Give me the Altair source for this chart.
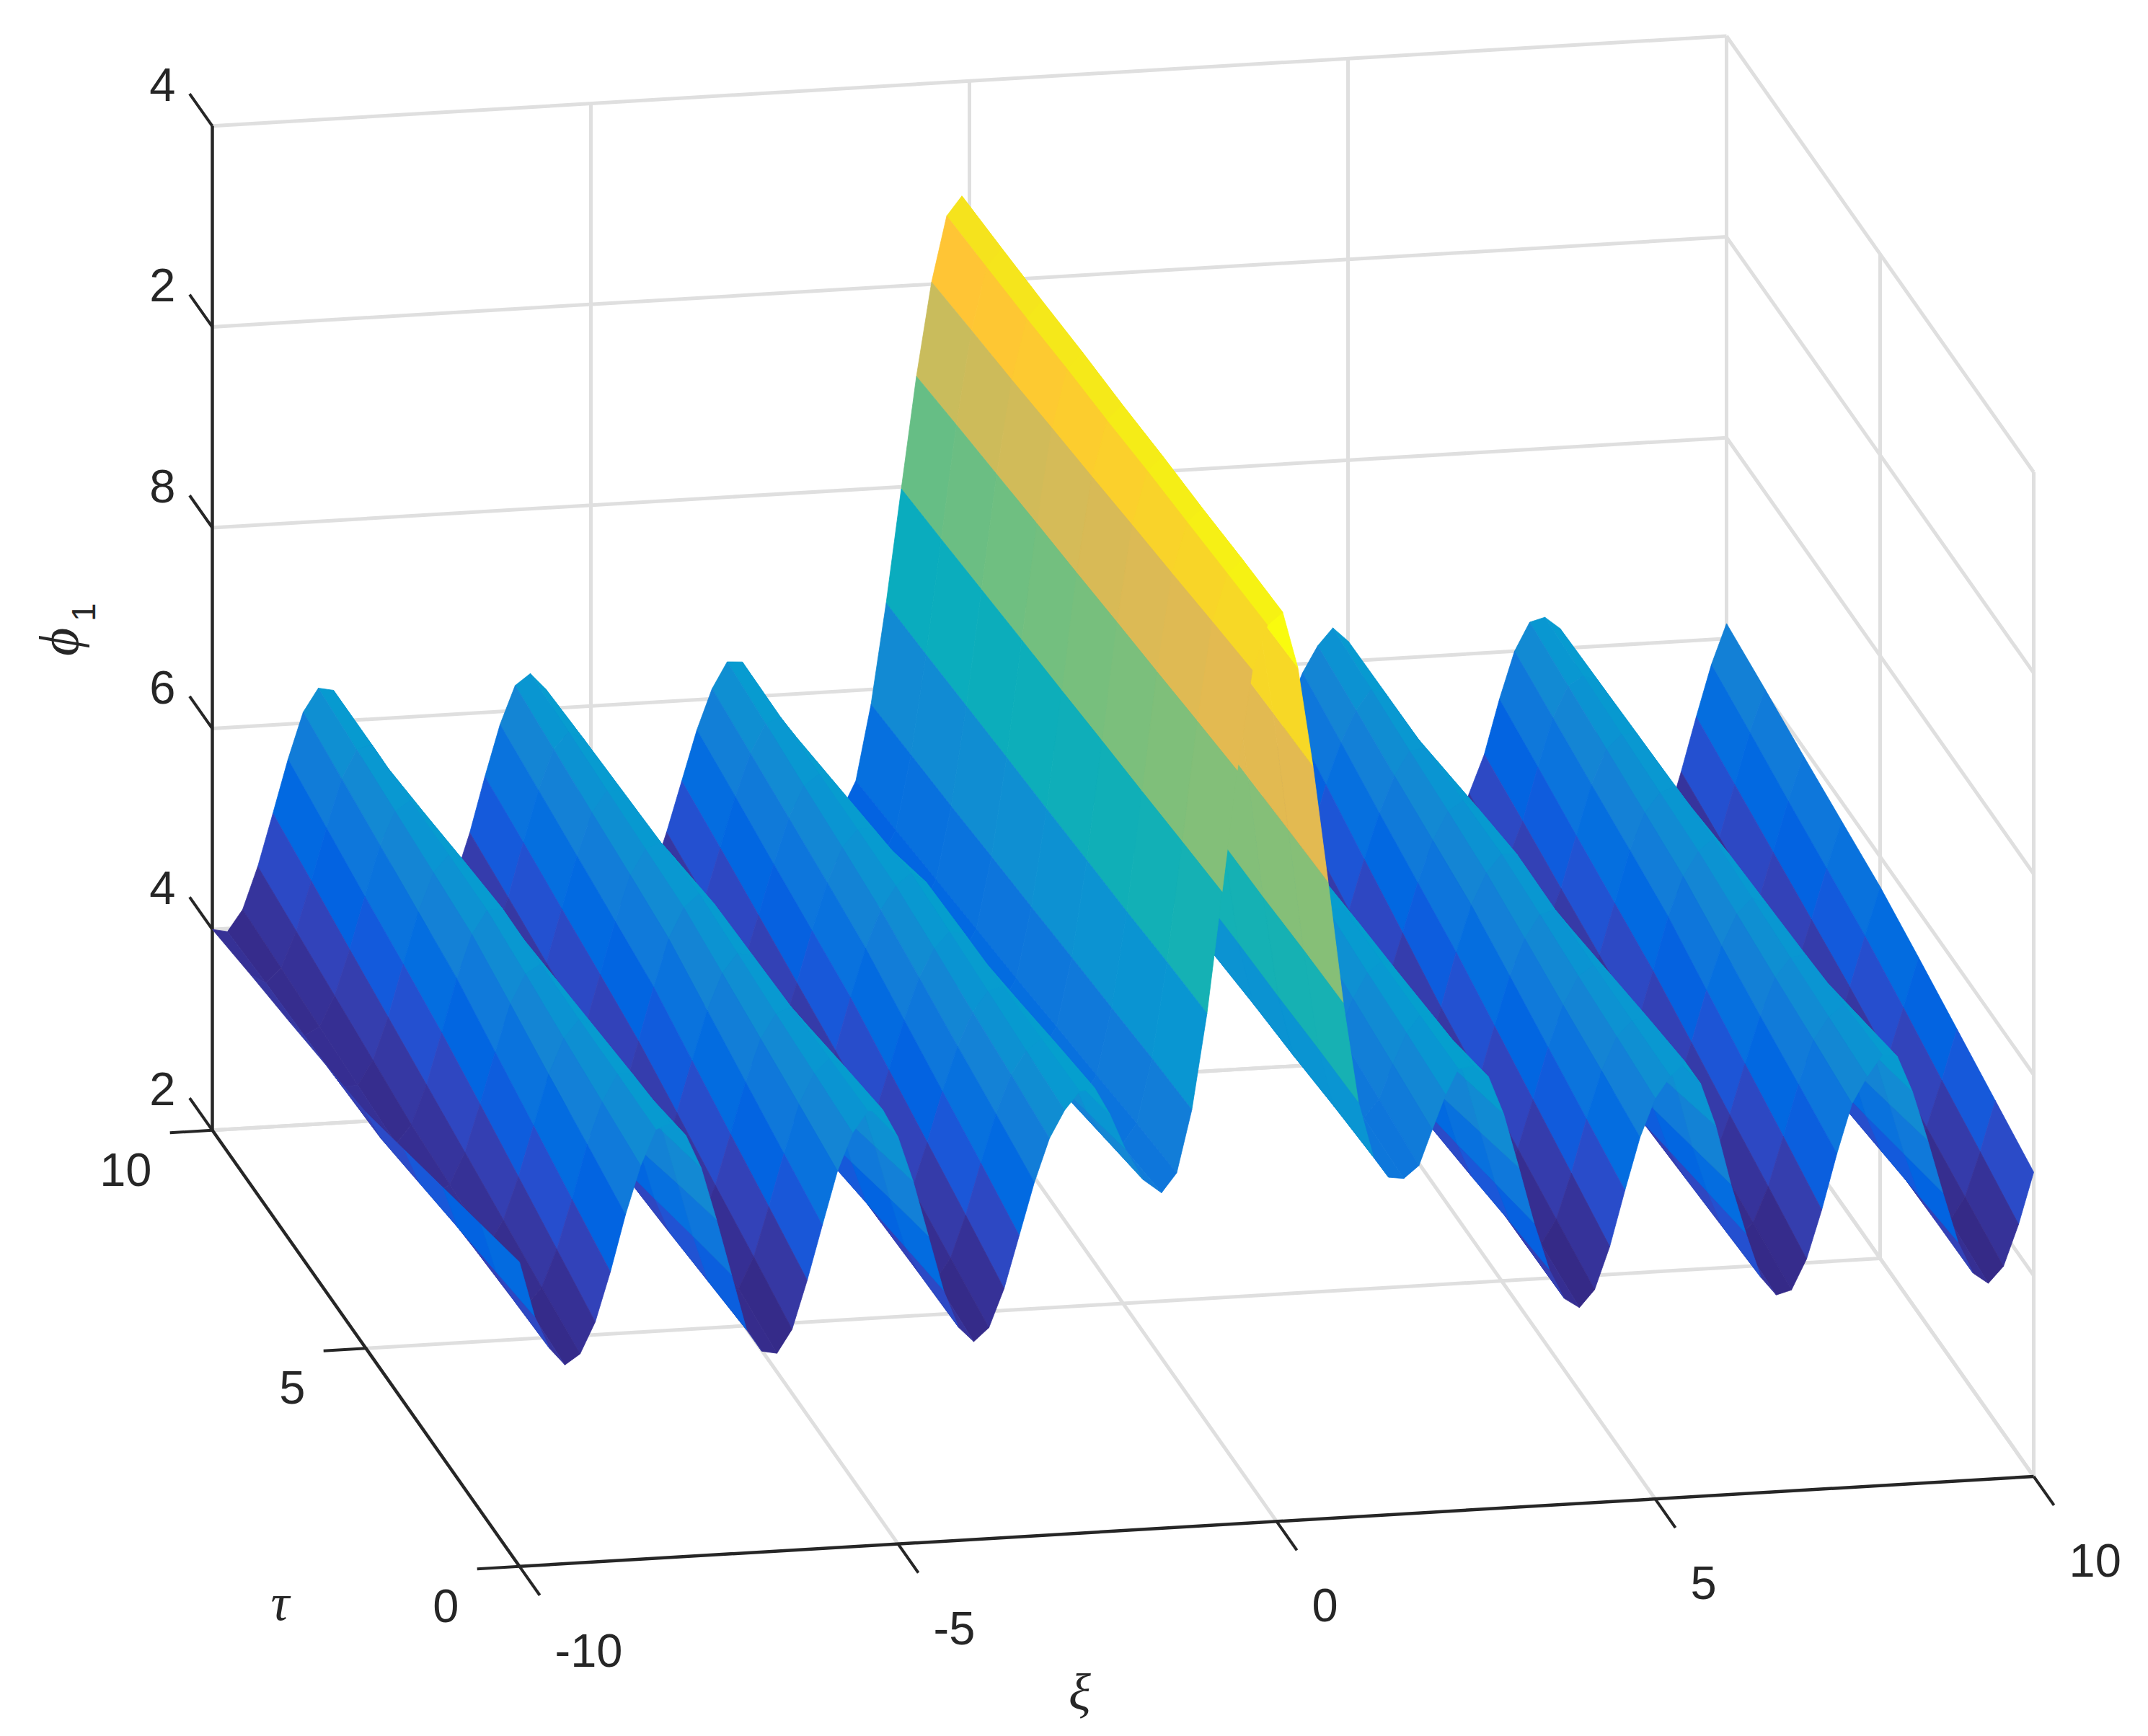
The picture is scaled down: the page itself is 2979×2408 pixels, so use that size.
import altair as alt
import pandas as pd

# ---- surface values (phi_1 at xi = -10, -9.8, ..., 10) ----
tau_rows = [0, 1.25, 2.5, 3.75, 5, 6.25, 7.5, 8.75, 10]
phi_tau_0 = [5.03,4.48,4.15,3.98,4.08,4.39,4.88,5.44,5.92,6.27,
 6.33,6.19,5.86,5.34,4.78,4.22,4.0,3.97,4.2,4.68,
 5.22,5.75,6.12,6.33,6.33,6.05,5.6,5.05,4.5,4.12,
 3.97,4.1,4.48,5.0,5.52,5.95,6.22,6.4,6.42,6.15,
 5.8,5.48,5.34,5.53,6.15,7.1,8.3,9.5,10.49,10.93,
 11.05,10.49,9.5,8.34,7.13,6.13,5.57,5.36,5.34,5.46,
 5.81,6.15,6.4,6.42,6.3,5.92,5.38,4.82,4.35,4.05,
 3.95,4.12,4.54,5.09,5.61,5.99,6.2,6.33,6.11,5.68,
 5.09,4.59,4.14,3.96,4.0,4.3,4.78,5.33,5.82,6.08,
 6.29,6.26,5.9,5.41,4.88,4.38,4.06,3.95,4.11,4.52,5.03]
phi_tau_1 = [4.86,4.38,4.12,4.03,4.2,4.57,5.06,5.6,6.01,6.28,
 6.27,6.06,5.68,5.15,4.62,4.16,4.02,4.07,4.38,4.87,
 5.39,5.87,6.17,6.31,6.22,5.89,5.41,4.88,4.39,4.1,
 4.04,4.25,4.67,5.18,5.66,6.04,6.27,6.38,6.32,5.98,
 5.63,5.36,5.27,5.48,6.12,7.07,8.26,9.45,10.43,10.9,
 11.03,10.47,9.49,8.32,7.12,6.12,5.54,5.35,5.4,5.58,
 5.92,6.22,6.39,6.35,6.15,5.73,5.19,4.67,4.27,4.04,
 4.04,4.28,4.73,5.26,5.73,6.06,6.21,6.24,5.95,5.48,
 4.92,4.46,4.1,4.0,4.13,4.48,4.97,5.48,5.91,6.13,
 6.25,6.12,5.73,5.23,4.72,4.29,4.05,4.03,4.26,4.7,5.2]
phi_tau_2 = [4.69,4.28,4.08,4.09,4.33,4.75,5.25,5.75,6.1,6.28,
 6.2,5.92,5.49,4.95,4.45,4.1,4.03,4.18,4.55,5.05,
 5.56,5.98,6.22,6.28,6.1,5.72,5.22,4.7,4.28,4.07,
 4.11,4.4,4.85,5.35,5.79,6.12,6.32,6.36,6.21,5.8,
 5.45,5.24,5.2,5.42,6.08,7.03,8.22,9.4,10.37,10.87,
 11.0,10.45,9.48,8.3,7.1,6.1,5.5,5.33,5.47,5.7,
 6.03,6.28,6.38,6.28,6.0,5.54,5.0,4.52,4.18,4.03,
 4.12,4.44,4.92,5.43,5.84,6.12,6.22,6.14,5.78,5.28,
 4.75,4.33,4.06,4.04,4.25,4.65,5.15,5.62,5.99,6.18,
 6.2,5.98,5.55,5.05,4.56,4.2,4.03,4.11,4.41,4.87,5.37]
phi_tau_3 = [4.52,4.18,4.05,4.15,4.46,4.93,5.44,5.91,6.2,6.29,
 6.13,5.79,5.31,4.76,4.29,4.05,4.05,4.29,4.73,5.24,
 5.73,6.09,6.28,6.25,5.99,5.55,5.03,4.53,4.17,4.05,
 4.18,4.55,5.03,5.52,5.93,6.21,6.37,6.34,6.11,5.63,
 5.28,5.12,5.13,5.36,6.04,7.0,8.18,9.35,10.31,10.84,
 10.98,10.43,9.47,8.29,7.09,6.09,5.47,5.32,5.54,5.83,
 6.14,6.35,6.38,6.22,5.85,5.35,4.82,4.38,4.1,4.03,
 4.21,4.6,5.11,5.6,5.96,6.19,6.23,6.04,5.61,5.09,
 4.58,4.2,4.02,4.08,4.37,4.83,5.34,5.77,6.08,6.23,
 6.16,5.84,5.38,4.87,4.41,4.11,4.02,4.19,4.57,5.05,5.54]
phi_tau_5 = [4.35,4.08,4.02,4.2,4.59,5.1,5.63,6.06,6.29,6.3,
 6.06,5.65,5.12,4.56,4.13,3.99,4.06,4.39,4.9,5.43,
 5.9,6.2,6.33,6.22,5.87,5.38,4.83,4.35,4.06,4.02,
 4.25,4.69,5.21,5.69,6.06,6.29,6.41,6.31,6.0,5.45,
 5.1,5.0,5.05,5.3,6.0,6.97,8.14,9.3,10.25,10.8,
 10.95,10.4,9.45,8.27,7.07,6.07,5.43,5.3,5.6,5.95,
 6.25,6.41,6.37,6.15,5.7,5.16,4.63,4.23,4.01,4.02,
 4.29,4.76,5.3,5.76,6.07,6.25,6.24,5.94,5.44,4.89,
 4.41,4.07,3.98,4.12,4.49,5.0,5.53,5.92,6.16,6.28,
 6.12,5.7,5.2,4.68,4.25,4.02,4.01,4.27,4.72,5.22,5.7]
phi_tau_6 = [4.26,4.05,4.06,4.3,4.72,5.24,5.75,6.13,6.3,6.23,
 5.93,5.49,4.95,4.45,4.09,4.0,4.13,4.5,5.02,5.54,
 5.99,6.24,6.3,6.12,5.72,5.22,4.69,4.26,4.05,4.08,
 4.36,4.82,5.33,5.8,6.14,6.31,6.32,6.12,5.76,5.25,
 4.95,4.9,4.99,5.25,5.96,6.94,8.1,9.25,10.19,10.77,
 10.93,10.38,9.44,8.25,7.05,6.05,5.4,5.25,5.55,5.93,
 6.24,6.4,6.32,6.04,5.56,5.02,4.51,4.17,4.03,4.14,
 4.47,4.96,5.45,5.86,6.14,6.24,6.15,5.8,5.3,4.76,
 4.32,4.05,4.04,4.24,4.62,5.13,5.65,6.01,6.2,6.26,
 6.05,5.61,5.11,4.6,4.2,4.01,4.06,4.38,4.85,5.35,5.81]
phi_tau_7 = [4.17,4.02,4.1,4.4,4.85,5.37,5.87,6.2,6.3,6.15,
 5.8,5.32,4.78,4.33,4.05,4.02,4.2,4.6,5.13,5.65,
 6.07,6.28,6.27,6.01,5.57,5.05,4.54,4.17,4.03,4.13,
 4.47,4.95,5.45,5.9,6.21,6.32,6.23,5.93,5.52,5.05,
 4.8,4.8,4.92,5.2,5.92,6.91,8.06,9.2,10.13,10.73,
 10.9,10.35,9.42,8.23,7.03,6.03,5.36,5.2,5.5,5.9,
 6.22,6.38,6.26,5.92,5.42,4.88,4.39,4.1,4.05,4.26,
 4.65,5.15,5.6,5.96,6.2,6.22,6.05,5.65,5.15,4.62,
 4.23,4.02,4.09,4.36,4.74,5.26,5.76,6.1,6.24,6.24,
 5.98,5.52,5.02,4.51,4.15,3.99,4.1,4.48,4.98,5.48,5.92]
phi_tau_8 = [4.09,4.0,4.14,4.5,4.99,5.51,5.99,6.27,6.31,6.08,
 5.68,5.16,4.62,4.22,4.01,4.04,4.28,4.71,5.25,5.76,
 6.16,6.32,6.24,5.91,5.43,4.89,4.4,4.09,4.02,4.19,
 4.59,5.08,5.58,6.0,6.29,6.34,6.14,5.74,5.29,4.85,
 4.65,4.7,4.86,5.15,5.89,6.88,8.02,9.15,10.08,10.7,
 10.88,10.33,9.41,8.22,7.02,6.02,5.33,5.15,5.45,5.88,
 6.21,6.37,6.21,5.81,5.29,4.74,4.27,4.04,4.08,4.38,
 4.83,5.35,5.76,6.07,6.27,6.21,5.95,5.5,5.0,4.49,
 4.14,4.0,4.15,4.49,4.87,5.4,5.88,6.19,6.28,6.22,
 5.92,5.44,4.94,4.43,4.1,3.98,4.15,4.59,5.11,5.62,6.04]
phi_tau_10 = [4.0,3.97,4.18,4.6,5.12,5.65,6.11,6.34,6.31,6.0,
 5.55,5.0,4.45,4.1,3.97,4.05,4.35,4.81,5.36,5.87,
 6.25,6.36,6.2,5.8,5.28,4.72,4.25,4.0,4.0,4.25,
 4.7,5.2,5.7,6.1,6.36,6.35,6.05,5.55,5.05,4.65,
 4.5,4.6,4.8,5.1,5.85,6.85,7.98,9.09,10.02,10.67,
 10.86,10.3,9.4,8.2,7.0,6.0,5.3,5.1,5.4,5.85,
 6.2,6.35,6.15,5.7,5.15,4.6,4.15,3.97,4.1,4.5,
 5.0,5.55,5.91,6.17,6.34,6.2,5.85,5.35,4.85,4.35,
 4.05,3.97,4.2,4.61,4.99,5.53,6.0,6.28,6.32,6.2,
 5.85,5.35,4.85,4.35,4.05,3.97,4.2,4.7,5.24,5.75,6.15]
phi_rows = [phi_tau_0, phi_tau_1, phi_tau_2, phi_tau_3, phi_tau_5,
            phi_tau_6, phi_tau_7, phi_tau_8, phi_tau_10]
xi_nodes = [round(-10 + 0.2 * j, 1) for j in range(101)]

# the mesh leans slightly around the central ridge
mesh_lean_rows = [0.08, 0.06, 0.035, 0.015, -0.01, -0.03, -0.055, -0.08, -0.1]
mesh_lean_nodes = {-1.8: 0.5, -1.6: 1, -1.4: 1, -1.2: 1, -1.0: 1, -0.8: 1, -0.6: 1, -0.4: 1, -0.2: 1,
                   0.0: 1, 0.2: 1, 0.4: 1, 0.6: 1, 0.8: 1, 1.0: 1, 1.2: 1, 1.4: 1, 1.6: 1, 1.8: 1,
                   2.0: 0.7, 2.2: 0.4}

xi_ticks = [-10, -5, 0, 5, 10]
xi_tick_labels = ["-10", "-5", "0", "5", "10"]
tau_ticks = [0, 5, 10]
tau_tick_labels = ["0", "5", "10"]
phi_ticks = [2, 4, 6, 8, 10, 12]
phi_tick_labels = ["2", "4", "6", "8", "2", "4"]

parula = ["#352a87","#362f93","#3636a0","#353dad","#3243ba","#2b4ac7","#2053d4","#0f5cdd",
 "#0363e1","#0268e1","#046de0","#0871de","#0d75dc","#1079da","#127dd8","#1481d6",
 "#1485d4","#1389d3","#108ed2","#0c93d2","#0998d1","#079ccf","#06a0cd","#06a4ca",
 "#06a7c6","#07a9c2","#0aacbe","#0faeb9","#15b1b4","#1db3af","#25b5a9","#2eb7a4",
 "#38b99e","#42bb98","#4dbc92","#59bd8c","#65be86","#71bf80","#7cbf7b","#87bf77",
 "#92bf73","#9bbf6f","#a5be6b","#aebe67","#b7bd63","#c0bc60","#c8bc5c","#d1bb59",
 "#d9ba56","#e1ba52","#e9b94e","#f1b94a","#f8ba44","#fdbe3d","#ffc337","#fec832",
 "#fccd2e","#f9d32a","#f7d826","#f5de21","#f5e41d","#f5eb18","#f6f313","#f9fb0e"]


def project(xi, tau, phi):
    """Orthographic view of the 3-D box, in page pixels."""
    return (720.5 + 105.0 * (xi + 10) - 42.6 * tau,
            2172.8 - 6.24 * (xi + 10) - 60.5 * tau - 139.3 * (phi - 2))


def node(a, b):
    xi = xi_nodes[a] + mesh_lean_rows[b] * mesh_lean_nodes.get(xi_nodes[a], 0)
    return list(project(xi, tau_rows[b], phi_rows[b][a]))


features = []
for i in range(len(tau_rows) - 2, -1, -1):
    for j in range(len(xi_nodes) - 2, -1, -1):
        corners = [(j, i), (j + 1, i), (j + 1, i + 1), (j, i + 1), (j, i)]
        ring = [node(a, b) for a, b in corners]
        features.append({"type": "Feature",
                         "geometry": {"type": "Polygon", "coordinates": [ring]},
                         "properties": {"phi": phi_rows[i][j]}})

x_scale = alt.Scale(domain=[8, 2971], nice=False, zero=False)
y_scale = alt.Scale(domain=[2400, 8], nice=False, zero=False)


def segments(points):
    rows = []
    for a, b in points:
        x1, y1 = project(*a)
        x2, y2 = project(*b)
        rows.append({"x": x1, "y": y1, "x2": x2, "y2": y2})
    return pd.DataFrame(rows)


def rule_layer(points, color, width):
    return alt.Chart(segments(points)).mark_rule(color=color, strokeWidth=width).encode(
        x=alt.X("x:Q", scale=x_scale, axis=None),
        y=alt.Y("y:Q", scale=y_scale, axis=None),
        x2="x2:Q", y2="y2:Q")


def text_layer(rows, **mark):
    return alt.Chart(pd.DataFrame(rows)).mark_text(**mark).encode(
        x=alt.X("x:Q", scale=x_scale, axis=None),
        y=alt.Y("y:Q", scale=y_scale, axis=None),
        text="t:N")


grid_pts = []
for p in phi_ticks:
    grid_pts.append(((-10, 10, p), (10, 10, p)))
    grid_pts.append(((10, 10, p), (10, 0, p)))
for v in xi_ticks[1:]:
    grid_pts.append(((v, 10, 2), (v, 10, 12)))
    grid_pts.append(((v, 0, 2), (v, 10, 2)))
for v in tau_ticks[:-1]:
    grid_pts.append(((10, v, 2), (10, v, 12)))
for v in tau_ticks[1:]:
    grid_pts.append(((-10, v, 2), (10, v, 2)))

axis_pts = [((-10, 10, 2), (-10, 10, 12)), ((-10, 0, 2), (10, 0, 2)), ((-10, 0, 2), (-10, 10, 2))]
tick_pts = []
for p in phi_ticks:
    tick_pts.append(((-10, 10, p), (-10, 10.74, p)))
for v in xi_ticks:
    tick_pts.append(((v, 0, 2), (v, -0.66, 2)))
for v in tau_ticks:
    tick_pts.append(((-10, v, 2), (-10.56, v, 2)))


def labelled(positions, labels):
    rows = []
    for pos, lab in zip(positions, labels):
        x, y = project(*pos)
        rows.append({"x": x, "y": y, "t": lab})
    return rows


INK = "#262626"
FONT = "Liberation Sans"
SIZE = 65
color_scale = alt.Scale(domain=[3.95, 11.05], range=parula)

surface = alt.Chart(alt.Data(values=features)).mark_geoshape(strokeWidth=0.8).encode(
    color=alt.Color("properties.phi:Q", scale=color_scale, legend=None),
    stroke=alt.Color("properties.phi:Q", scale=color_scale, legend=None),
).project(type="identity", scale=1, translate=[-8, -8])

layers = [
    rule_layer(grid_pts, "#dfdfdf", 5),
    rule_layer(axis_pts, INK, 4.5),
    rule_layer(tick_pts, INK, 4),
    surface,
    text_layer(labelled([(-10, 10, p) for p in phi_ticks], phi_tick_labels), font=FONT, fontSize=SIZE,
               color=INK, align="right", baseline="middle", dx=-51, dy=-55),
    text_layer(labelled([(-10, v, 2) for v in tau_ticks], tau_tick_labels), font=FONT, fontSize=SIZE,
               color=INK, align="right", baseline="middle", dx=-84, dy=57),
    text_layer(labelled([(v, 0, 2) for v in xi_ticks], xi_tick_labels), font=FONT, fontSize=SIZE,
               color=INK, align="left", baseline="middle", dx=49, dy=119),
    text_layer(labelled([(0, 0, 2)], ["\u03be"]), font="Liberation Serif", fontStyle="italic",
               fontSize=72, color=INK, align="center", baseline="middle", dx=-273, dy=240),
    text_layer(labelled([(-10, 0, 2)], ["\u03c4"]), font="Liberation Serif", fontStyle="italic",
               fontSize=72, color=INK, align="center", baseline="middle", dx=-332, dy=52),
    # with a rotated text, dx runs along the text and dy across it
    text_layer(labelled([(-10, 10, 7)], ["\u03d5"]), font="Liberation Serif", fontStyle="italic",
               fontSize=76, color=INK, align="center", baseline="middle", angle=270, dx=-19, dy=-210),
    text_layer(labelled([(-10, 10, 7)], ["1"]), font="Liberation Sans",
               fontSize=46, color=INK, align="center", baseline="middle", angle=270, dx=22, dy=-177),
]

chart = alt.layer(*layers).properties(
    width=2963, height=2392, padding=0,
    autosize=alt.AutoSizeParams(type="none"), background="white",
).resolve_scale(color="shared", stroke="shared").configure_view(strokeWidth=0)

chart.save("out.html", embed_options={"renderer": "svg", "actions": False})
